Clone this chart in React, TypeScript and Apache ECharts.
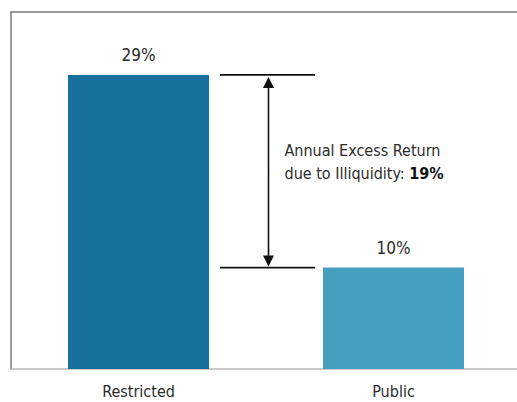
import React, { useEffect, useRef } from "react";
import * as echarts from "echarts";

const categories = ["Restricted", "Public"];
const returns = [29, 10];
const barColors = ["#17709c", "#469fbf"];
const yMax = 35.2;
const annotationLines = ["Annual Excess Return", "due to Illiquidity: "];

const FONT = "'DejaVu Sans Condensed', 'Liberation Sans Narrow', sans-serif";
const TEXT = "#2b2b2b";

export default function App() {
  const ref = useRef<HTMLDivElement>(null);
  useEffect(() => {
    document.body.style.margin = "0";
    document.body.style.overflow = "hidden";
    const chart = echarts.init(ref.current!, null, { renderer: "svg" });
    chart.setOption({
      animation: false,
      grid: { left: 11, right: 0, top: 12, bottom: 33, containLabel: false },
      xAxis: [
        {
          type: "category",
          data: categories,
          position: "bottom",
          axisLine: { show: true, lineStyle: { color: "#b8b8b8", width: 1.5 } },
          axisTick: { show: false },
          axisLabel: { color: TEXT, fontFamily: FONT, fontSize: 16, margin: 14 },
        },
        {
          type: "category",
          data: categories,
          position: "top",
          axisLine: { show: true, onZero: false, lineStyle: { color: "#7a7a7a", width: 1.5 } },
          axisTick: { show: false },
          axisLabel: { show: false },
        },
      ],
      yAxis: {
        type: "value",
        min: 0,
        max: yMax,
        axisLine: { show: true, onZero: false, lineStyle: { color: "#7a7a7a", width: 1.5 } },
        axisTick: { show: false },
        axisLabel: { show: false },
        splitLine: { show: false },
      },
      series: [
        {
          type: "bar",
          xAxisIndex: 0,
          barWidth: 141,
          data: returns.map((v, i) => ({ value: v, itemStyle: { color: barColors[i] } })),
          label: {
            show: true,
            position: "top",
            distance: 11,
            formatter: "{c}%",
            color: TEXT,
            fontFamily: FONT,
            fontSize: 17,
          },
        },
      ],
    });

    const yTop = chart.convertToPixel({ yAxisIndex: 0 }, returns[0]) as number;
    const yBot = chart.convertToPixel({ yAxisIndex: 0 }, returns[1]) as number;
    const x0 = chart.convertToPixel({ xAxisIndex: 0 }, categories[0]) as number;
    const x1 = chart.convertToPixel({ xAxisIndex: 0 }, categories[1]) as number;
    const mid = (x0 + x1) / 2 + 1.5;
    const diff = returns[0] - returns[1];
    const stroke = "#111111";

    chart.setOption({
      graphic: [
        { type: "line", shape: { x1: mid - 47.5, y1: yTop, x2: mid + 47.5, y2: yTop }, style: { stroke, lineWidth: 1.6 } },
        { type: "line", shape: { x1: mid - 47.5, y1: yBot, x2: mid + 47.5, y2: yBot }, style: { stroke, lineWidth: 1.6 } },
        { type: "line", shape: { x1: mid + 1, y1: yTop + 8, x2: mid + 1, y2: yBot - 8 }, style: { stroke, lineWidth: 1.6 } },
        {
          type: "polygon",
          shape: { points: [[mid + 1, yTop + 2], [mid - 4.5, yTop + 13], [mid + 6.5, yTop + 13]] },
          style: { fill: stroke },
        },
        {
          type: "polygon",
          shape: { points: [[mid + 1, yBot - 1], [mid - 4.5, yBot - 12], [mid + 6.5, yBot - 12]] },
          style: { fill: stroke },
        },
        {
          type: "text",
          x: mid + 17,
          y: (yTop + yBot) / 2 - 9,
          style: {
            text: `${annotationLines[0]}\n${annotationLines[1]}{b|${diff}%}`,
            fill: TEXT,
            fontFamily: FONT,
            fontSize: 16,
            lineHeight: 23,
            verticalAlign: "middle",
            align: "left",
            rich: {
              b: { fontWeight: "bold", fontFamily: FONT, fontSize: 16, fill: "#111", lineHeight: 23 },
            },
          },
        },
      ],
    });
    return () => chart.dispose();
  }, []);
  return <div ref={ref} style={{ width: 521, height: 402 }} />;
}
